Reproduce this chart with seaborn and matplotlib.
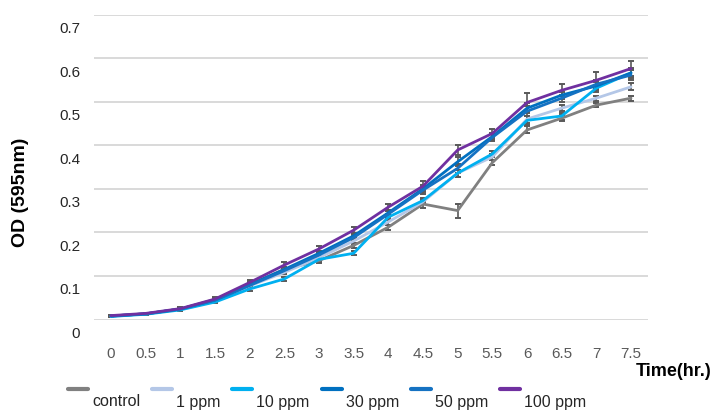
import numpy as np
import pandas as pd
import matplotlib
matplotlib.use("Agg")
import matplotlib.pyplot as plt
import matplotlib.transforms as mtransforms
from matplotlib.lines import Line2D
from matplotlib.legend_handler import HandlerLine2D
import seaborn as sns

# -------------------------------
# DATA
# -------------------------------
time_hr = [0, 0.5, 1, 1.5, 2, 2.5, 3, 3.5, 4, 4.5, 5, 5.5, 6, 6.5, 7, 7.5]
groups = ["control", "1 ppm", "10 ppm", "30 ppm", "50 ppm", "100 ppm"]

od_control = [0.008, 0.013, 0.024, 0.046, 0.080, 0.115, 0.135, 0.170, 0.212, 0.265, 0.250, 0.360, 0.435, 0.462, 0.492, 0.508]
od_1ppm = [0.007, 0.013, 0.023, 0.043, 0.077, 0.108, 0.142, 0.180, 0.224, 0.270, 0.336, 0.373, 0.460, 0.485, 0.508, 0.534]
od_10ppm = [0.007, 0.012, 0.022, 0.040, 0.070, 0.093, 0.138, 0.152, 0.235, 0.273, 0.336, 0.380, 0.457, 0.467, 0.531, 0.566]
od_30ppm = [0.008, 0.013, 0.024, 0.045, 0.080, 0.115, 0.152, 0.192, 0.245, 0.300, 0.362, 0.420, 0.485, 0.515, 0.536, 0.566]
od_50ppm = [0.008, 0.013, 0.024, 0.044, 0.078, 0.112, 0.148, 0.188, 0.242, 0.297, 0.347, 0.418, 0.478, 0.508, 0.540, 0.561]
od_100ppm = [0.009, 0.014, 0.025, 0.047, 0.085, 0.125, 0.162, 0.205, 0.258, 0.306, 0.389, 0.427, 0.498, 0.526, 0.549, 0.576]

err_control = [0.002, 0.002, 0.003, 0.004, 0.005, 0.005, 0.006, 0.006, 0.006, 0.008, 0.016, 0.006, 0.008, 0.007, 0.005, 0.006]
err_1ppm = [0.002, 0.002, 0.003, 0.003, 0.004, 0.004, 0.005, 0.006, 0.006, 0.006, 0.008, 0.006, 0.008, 0.007, 0.006, 0.008]
err_10ppm = [0.002, 0.002, 0.003, 0.003, 0.004, 0.004, 0.005, 0.005, 0.006, 0.006, 0.008, 0.007, 0.010, 0.008, 0.008, 0.010]
err_30ppm = [0.002, 0.002, 0.003, 0.003, 0.004, 0.005, 0.005, 0.006, 0.006, 0.008, 0.010, 0.008, 0.012, 0.008, 0.010, 0.012]
err_50ppm = [0.002, 0.002, 0.003, 0.003, 0.004, 0.005, 0.005, 0.006, 0.006, 0.008, 0.010, 0.008, 0.012, 0.008, 0.010, 0.012]
err_100ppm = [0.002, 0.002, 0.003, 0.004, 0.006, 0.006, 0.007, 0.008, 0.008, 0.012, 0.012, 0.010, 0.022, 0.014, 0.020, 0.018]

colors = ["#808080", "#B4C7E7", "#00B0F0", "#0070C0", "#1572C2", "#7030A0"]

y_ticks = [0, 0.1, 0.2, 0.3, 0.4, 0.5, 0.6, 0.7]
y_ticklabels = ["0", "0.1", "0.2", "0.3", "0.4", "0.5", "0.6", "0.7"]
x_ticklabels = ["0", "0.5", "1", "1.5", "2", "2.5", "3", "3.5", "4", "4.5", "5", "5.5", "6", "6.5", "7", "7.5"]

series = [od_control, od_1ppm, od_10ppm, od_30ppm, od_50ppm, od_100ppm]
errors = [err_control, err_1ppm, err_10ppm, err_30ppm, err_50ppm, err_100ppm]

df = pd.concat(
    [pd.DataFrame({"time": time_hr, "od": s, "err": e, "group": g})
     for g, s, e in zip(groups, series, errors)],
    ignore_index=True,
)
palette = dict(zip(groups, colors))

# -------------------------------
# STYLE
# -------------------------------
sns.set_theme(style="white")
plt.rcParams["font.family"] = ["Liberation Sans", "DejaVu Sans"]

fig = plt.figure(figsize=(7.14, 4.12), dpi=100)
ax = fig.add_axes([94 / 714, 1 - 319.5 / 412, 554 / 714, 305 / 412])

# error bars first, lines on top
for g in groups:
    sub = df[df["group"] == g]
    ax.errorbar(sub["time"], sub["od"], yerr=sub["err"], fmt="none",
                ecolor="#595959", elinewidth=1.2, capsize=2.5, capthick=1.4,
                zorder=2)

sns.lineplot(data=df, x="time", y="od", hue="group", hue_order=groups,
             palette=palette, linewidth=2.0, legend=False, ax=ax, zorder=3)

ax.set_xlim(-0.245, 7.745)
ax.set_ylim(0, 0.7)

ax.set_xticks(time_hr)
ax.set_xticklabels(x_ticklabels, fontsize=11, color="#595959")
ax.set_yticks(y_ticks)
ax.set_yticklabels(y_ticklabels, fontsize=11, color="#262626")
ax.tick_params(axis="x", length=0, pad=20)
ax.tick_params(axis="y", length=0, pad=10)

# y labels sit a little below their gridlines in the original
offset = mtransforms.ScaledTranslation(0, -0.13, fig.dpi_scale_trans)
for lab in ax.get_yticklabels():
    lab.set_transform(lab.get_transform() + offset)

ax.grid(axis="y", color="#D9D9D9", linewidth=1.4)
ax.grid(axis="x", visible=False)
for sp in ax.spines.values():
    sp.set_visible(False)

ax.set_ylabel("OD (595nm)", fontsize=14, fontweight="bold", color="black")
ax.yaxis.set_label_coords(-0.117, 0.418)
ax.set_xlabel("Time(hr.)", fontsize=13, fontweight="bold", color="black",
              ha="right", va="center")
ax.xaxis.set_label_coords(1.1155, -0.172)


# -------------------------------
# LEGEND (handle raised above text, like the original)
# -------------------------------
class RaisedLine(HandlerLine2D):
    def create_artists(self, legend, orig_handle, xdescent, ydescent,
                       width, height, fontsize, trans):
        arts = super().create_artists(legend, orig_handle, xdescent, ydescent,
                                      width, height, fontsize, trans)
        for a in arts:
            a.set_ydata(np.asarray(a.get_ydata()) + 8.6)
        return arts


handles = [Line2D([0], [0], color=c, linewidth=3.0) for c in colors]
fig.legend(handles, groups, loc="center left",
           bbox_to_anchor=(68 / 714, 1 - 402 / 412), ncol=6, frameon=False,
           fontsize=11.5, handlelength=1.25, handletextpad=0.25,
           columnspacing=0.75, borderpad=0, borderaxespad=0,
           handler_map={Line2D: RaisedLine()})

fig.savefig("out.png", dpi=100)
plt.close(fig)
